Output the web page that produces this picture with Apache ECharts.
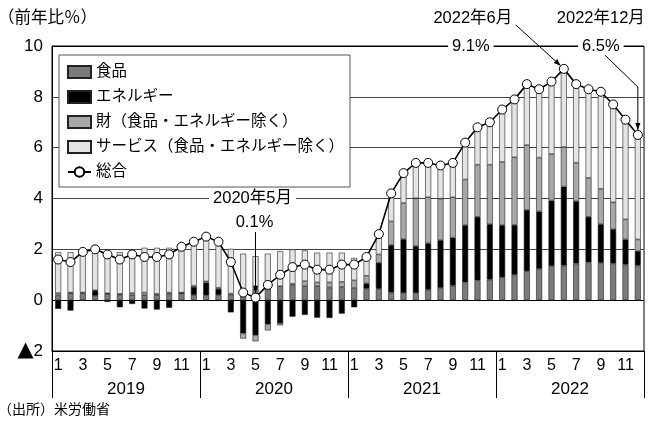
<!DOCTYPE html>
<html>
<head>
<meta charset="utf-8">
<script src="https://cdn.jsdelivr.net/npm/echarts@6/dist/echarts.min.js"></script>
<style>
  html, body { margin: 0; padding: 0; background: #fff; }
  #chart { width: 662px; height: 427px; }
</style>
</head>
<body>
<div id="chart"></div>
<script>
// 米国CPI 前年比と寄与度（2019年1月～2022年12月）
const years = ["2019", "2020", "2021", "2022"];
const monthNums = [1, 2, 3, 4, 5, 6, 7, 8, 9, 10, 11, 12];
const categories = [];
years.forEach((y) => monthNums.forEach((m) => categories.push(y + "年" + m + "月")));

const food = [
  0.19, 0.28, 0.28, 0.17, 0.25, 0.2, 0.2, 0.2, 0.2, 0.25, 0.28, 0.2,
  0.19, 0.2, 0.21, 0.35, 0.45, 0.6, 0.55, 0.6, 0.55, 0.55, 0.5, 0.52,
  0.48, 0.45, 0.44, 0.3, 0.28, 0.28, 0.41, 0.48, 0.57, 0.7, 0.78, 0.81,
  0.9, 1.0, 1.14, 1.23, 1.34, 1.36, 1.44, 1.49, 1.47, 1.44, 1.4, 1.36,
];
const energy = [
  -0.34, -0.41, -0.02, 0.2, -0.07, -0.28, -0.15, -0.33, -0.37, -0.3, 0.0, 0.32,
  0.5, 0.24, -0.48, -1.31, -1.38, -0.95, -0.91, -0.65, -0.58, -0.69, -0.7, -0.53,
  -0.28, 0.21, 1.03, 1.87, 2.12, 1.85, 1.83, 1.88, 1.89, 2.25, 2.5, 2.18,
  2.05, 1.96, 2.41, 2.26, 2.58, 3.11, 2.45, 1.79, 1.52, 1.35, 0.99, 0.57,
];
const goods = [
  0.09, 0.02, 0.02, 0.02, 0.02, 0.05, 0.08, 0.1, 0.05, 0.05, 0.02, 0.05,
  0.05, 0.05, 0.05, -0.2, -0.24, -0.24, -0.08, 0.05, 0.2, 0.15, 0.2, 0.2,
  0.3, 0.3, 0.33, 0.93, 1.42, 1.88, 1.81, 1.63, 1.59, 1.8, 2.05, 2.34,
  2.49, 2.66, 2.55, 2.12, 1.83, 1.56, 1.52, 1.53, 1.39, 1.06, 0.79, 0.46,
];
const services = [
  1.61, 1.59, 1.6, 1.64, 1.6, 1.64, 1.67, 1.76, 1.81, 1.76, 1.8, 1.73,
  1.76, 1.81, 1.76, 1.48, 1.28, 1.23, 1.38, 1.35, 1.21, 1.17, 1.17, 1.15,
  0.88, 0.7, 0.66, 0.95, 1.1, 1.34, 1.32, 1.23, 1.32, 1.42, 1.36, 1.63,
  1.98, 2.26, 2.45, 2.67, 2.87, 3.04, 3.13, 3.47, 3.84, 3.9, 3.97, 4.1,
];
const headline = [
  1.6, 1.5, 1.9, 2.0, 1.8, 1.6, 1.8, 1.7, 1.7, 1.8, 2.1, 2.3,
  2.5, 2.3, 1.5, 0.3, 0.1, 0.6, 1.0, 1.3, 1.4, 1.2, 1.2, 1.4,
  1.4, 1.7, 2.6, 4.2, 5.0, 5.4, 5.4, 5.3, 5.4, 6.2, 6.8, 7.0,
  7.5, 7.9, 8.5, 8.3, 8.6, 9.1, 8.5, 8.3, 8.2, 7.7, 7.1, 6.5,
];
// 注記を付ける月
const notes = [
  { idx: 16, label: "2020年5月" },
  { idx: 41, label: "2022年6月" },
  { idx: 47, label: "2022年12月" },
];

const FONT = "'Liberation Sans', 'Noto Sans CJK JP', sans-serif";
const chart = echarts.init(document.getElementById("chart"));

const barStyle = (color) => ({ color: color, borderColor: "#222", borderWidth: 0.6 });

const option = {
  animation: false,
  textStyle: { fontFamily: FONT, color: "#000" },
  grid: {
    left: 52, right: 18, top: 46, bottom: 76,
    show: true, borderColor: "#000", borderWidth: 1, backgroundColor: "transparent",
  },
  legend: {
    orient: "vertical",
    left: 59,
    top: 55,
    backgroundColor: "#fff",
    borderColor: "#555",
    borderWidth: 1,
    padding: [9, 6, 7, 8],
    itemWidth: 23,
    itemHeight: 12,
    itemGap: 9,
    textStyle: { fontSize: 15.5, color: "#000", lineHeight: 16, fontFamily: FONT },
    data: [
      { name: "食品", icon: "rect" },
      { name: "エネルギー", icon: "rect" },
      { name: "財（食品・エネルギー除く）", icon: "rect" },
      { name: "サービス（食品・エネルギー除く）", icon: "rect" },
      { name: "総合" },
    ],
  },
  xAxis: [
    {
      type: "category",
      data: categories,
      position: "bottom",
      axisLine: { show: true, onZero: false, lineStyle: { color: "#000", width: 1 } },
      axisTick: { show: false },
      axisLabel: {
        interval: 0,
        margin: 7,
        fontSize: 16,
        color: "#000",
        formatter: (v, i) => (i % 2 === 0 ? String((i % 12) + 1) : ""),
      },
    },
    {
      type: "category",
      data: years,
      position: "bottom",
      axisLine: { show: false, onZero: false },
      axisTick: { show: true, length: 47, interval: 0, lineStyle: { color: "#000" } },
      axisLabel: { margin: 30, fontSize: 17, color: "#000" },
    },
  ],
  yAxis: {
    type: "value",
    min: -2,
    max: 10,
    interval: 2,
    axisLine: { show: true, lineStyle: { color: "#000" } },
    axisTick: { show: false },
    axisLabel: {
      fontSize: 17,
      color: "#000",
      margin: 9,
      formatter: (v) => (v < 0 ? "{tri|▲}{num|" + -v + "}" : String(v)),
      rich: {
        tri: { fontSize: 21, fontFamily: "'DejaVu Sans'", color: "#000", verticalAlign: "middle" },
        num: { fontSize: 17, fontFamily: FONT, color: "#000", verticalAlign: "middle" },
      },
    },
    splitLine: {
      lineStyle: { color: ["#000", "#000", "#444", "#444", "#444", "#444", "#000"], width: 1 },
    },
  },
  series: [
    { name: "食品", type: "bar", stack: "cpi", barWidth: 6, data: food, itemStyle: barStyle("#7b7b7b") },
    { name: "エネルギー", type: "bar", stack: "cpi", barWidth: 6, data: energy, itemStyle: barStyle("#000") },
    { name: "財（食品・エネルギー除く）", type: "bar", stack: "cpi", barWidth: 6, data: goods, itemStyle: barStyle("#a8a8a8") },
    { name: "サービス（食品・エネルギー除く）", type: "bar", stack: "cpi", barWidth: 6, data: services, itemStyle: barStyle("#e4e4e4") },
    {
      name: "総合",
      type: "line",
      data: headline,
      symbol: "circle",
      symbolSize: 9,
      z: 5,
      lineStyle: { color: "#000", width: 1.6 },
      itemStyle: { color: "#fff", borderColor: "#000", borderWidth: 1 },
    },
  ],
};

chart.setOption(option);

// 注記（矢印とラベル）はデータ点の位置から配置する
const px = (i) => chart.convertToPixel({ xAxisIndex: 0, yAxisIndex: 0 }, [i, headline[i]]);
const topY = chart.convertToPixel({ yAxisIndex: 0 }, 10);
const fourY = chart.convertToPixel({ yAxisIndex: 0 }, 4);

function arrow(points) {
  const n = points.length;
  const [x1, y1] = points[n - 2];
  const [x2, y2] = points[n - 1];
  const a = Math.atan2(y2 - y1, x2 - x1);
  const L = 7, W = 2.6;
  const bx = x2 - L * Math.cos(a), by = y2 - L * Math.sin(a);
  const head = [
    [x2, y2],
    [bx + W * Math.sin(a), by - W * Math.cos(a)],
    [bx - W * Math.sin(a), by + W * Math.cos(a)],
  ];
  return [
    { type: "polyline", z: 100, shape: { points: points }, style: { stroke: "#000", lineWidth: 1, fill: null } },
    { type: "polygon", z: 100, shape: { points: head }, style: { fill: "#000" } },
  ];
}

function text(str, x, y, size, align, bg) {
  const s = { text: str, x: x, y: y, fill: "#000", font: size + "px " + FONT, align: align, verticalAlign: "middle" };
  if (bg) {
    s.backgroundColor = "#fff";
    s.padding = [1, 4];
  }
  return { type: "text", z: 100, style: s };
}

const [xMay, yMay] = px(notes[0].idx);
const [xJun, yJun] = px(notes[1].idx);
const [xDec, yDec] = px(notes[2].idx);
const r = 5;

const graphic = [
  text("（前年比％）", -2, 18, 16.5, "left"),
  text("（出所）米労働省", -2, 410, 14, "left"),
  // 2020年5月
  text(notes[0].label, xMay - 3, fourY, 16.5, "center", true),
  text(headline[notes[0].idx].toFixed(1) + "%", xMay - 1, 222, 16.5, "center"),
  ...arrow([[xMay, 232], [xMay, yMay - r]]),
  // 2022年6月
  text(notes[1].label, xJun - 91, 18, 16.5, "center"),
  text(headline[notes[1].idx].toFixed(1) + "%", xJun - 93, topY, 16.5, "center", true),
  ...arrow([[xJun - 48, 25], [xJun - 3.2, yJun - 3.2]]),
  // 2022年12月
  text(notes[2].label, xDec - 37, 18, 16.5, "center"),
  text(headline[notes[2].idx].toFixed(1) + "%", xDec - 37, topY, 16.5, "center", true),
  ...arrow([[xDec - 33, 55], [xDec, 87], [xDec, yDec - r]]),
];

chart.setOption({ graphic: graphic });
</script>
</body>
</html>
